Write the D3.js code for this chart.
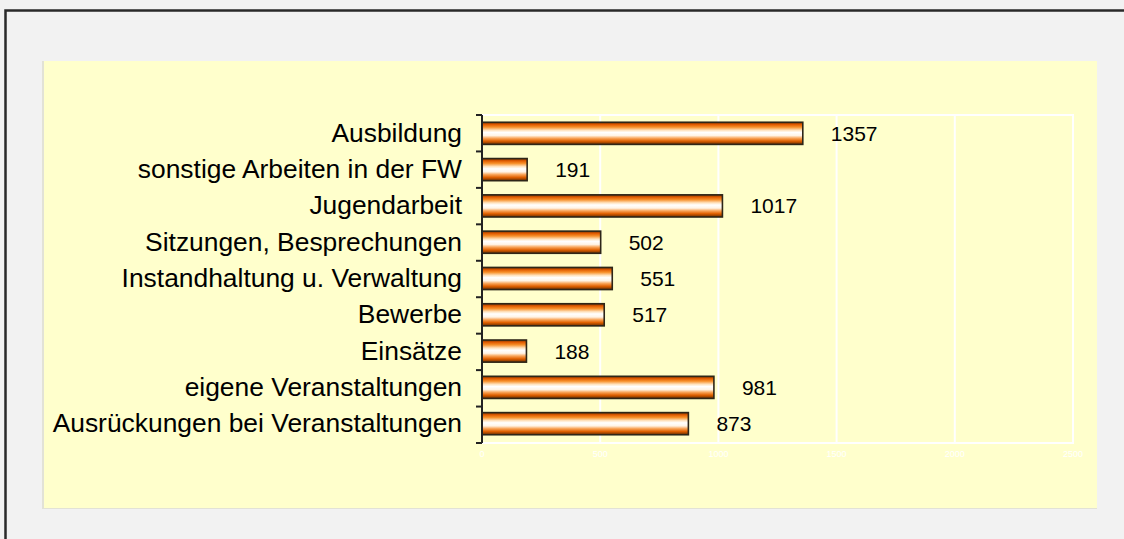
<!DOCTYPE html>
<html>
<head>
<meta charset="utf-8">
<script src="https://cdn.jsdelivr.net/npm/d3@7"></script>
<style>
  body { margin: 0; background: #f2f2f2; }
  svg { display: block; }
</style>
</head>
<body>
<script>
// Categories from top to bottom, with their values.
var categories = [
  "Ausbildung",
  "sonstige Arbeiten in der FW",
  "Jugendarbeit",
  "Sitzungen, Besprechungen",
  "Instandhaltung u. Verwaltung",
  "Bewerbe",
  "Einsätze",
  "eigene Veranstaltungen",
  "Ausrückungen bei Veranstaltungen"
];
var values = [1357, 191, 1017, 502, 551, 517, 188, 981, 873];
var xTicks = [0, 500, 1000, 1500, 2000, 2500];

var W = 1124, H = 539;
var plot = {left: 482, right: 1073, top: 115, bottom: 443};

var svg = d3.select("body").append("svg")
    .attr("width", W)
    .attr("height", H);

// Outer frame (only left and top edges visible)
svg.append("rect")
    .attr("width", W).attr("height", H)
    .attr("fill", "#f2f2f2");
svg.append("path")
    .attr("d", "M5.5," + H + "V10.5H" + W)
    .attr("fill", "none")
    .attr("stroke", "#2a2a2a")
    .attr("stroke-width", 2.5);

// Chart area with a light shadow
svg.append("rect")
    .attr("x", 42).attr("y", 61)
    .attr("width", 1055).attr("height", 448)
    .attr("fill", "#e2e2d6");
svg.append("rect")
    .attr("x", 44).attr("y", 61)
    .attr("width", 1053).attr("height", 447)
    .attr("fill", "#ffffcc");

// Gradient for the bars
var defs = svg.append("defs");
var grad = defs.append("linearGradient")
    .attr("id", "barGrad")
    .attr("x1", 0).attr("y1", 0).attr("x2", 0).attr("y2", 1);
[[0, "#7a3300"], [0.1, "#e05a00"], [0.22, "#f7902a"], [0.36, "#ffe2bd"],
 [0.46, "#ffffff"], [0.6, "#fff4e6"], [0.72, "#f9a55a"], [0.85, "#e06000"],
 [1, "#6b2e00"]].forEach(function(s) {
  grad.append("stop").attr("offset", s[0]).attr("stop-color", s[1]);
});

// Scales
var x = d3.scaleLinear()
    .domain([0, 2500])
    .range([plot.left, plot.right]);
var y = d3.scaleBand()
    .domain(categories)
    .range([plot.top, plot.bottom - 1])
    .paddingInner(0.39)
    .paddingOuter(0.2);

// Gridlines
svg.append("g")
    .selectAll("line")
    .data(xTicks.slice(1))
    .join("line")
    .attr("x1", function(d) { return x(d); })
    .attr("x2", function(d) { return x(d); })
    .attr("y1", plot.top)
    .attr("y2", plot.bottom)
    .attr("stroke", "#ffffff")
    .attr("stroke-width", 2);

// Plot border (top, right, bottom)
svg.append("path")
    .attr("d", "M" + plot.left + "," + plot.top + "H" + plot.right +
               "V" + plot.bottom + "H" + plot.left)
    .attr("fill", "none")
    .attr("stroke", "#ffffff")
    .attr("stroke-width", 2);

// X axis tick labels (white, barely visible)
svg.append("g")
    .selectAll("text")
    .data(xTicks)
    .join("text")
    .attr("x", function(d) { return x(d); })
    .attr("y", plot.bottom + 14)
    .attr("text-anchor", "middle")
    .attr("font-family", "Liberation Sans, Arial, sans-serif")
    .attr("font-size", "9px")
    .attr("fill", "#ffffff")
    .text(function(d) { return d; });

// Bars
svg.append("g")
    .selectAll("rect")
    .data(values)
    .join("rect")
    .attr("x", x(0))
    .attr("y", function(d, i) { return y(categories[i]); })
    .attr("width", function(d) { return x(d) - x(0); })
    .attr("height", y.bandwidth())
    .attr("fill", "url(#barGrad)")
    .attr("stroke", "#2e2618")
    .attr("stroke-width", 1.6);

// Value labels
svg.append("g")
    .selectAll("text")
    .data(values)
    .join("text")
    .attr("x", function(d) { return x(d) + 28; })
    .attr("y", function(d, i) { return y(categories[i]) + y.bandwidth() / 2 + 2; })
    .attr("dominant-baseline", "middle")
    .attr("font-family", "Liberation Sans, Arial, sans-serif")
    .attr("font-size", "21px")
    .attr("fill", "#000")
    .text(function(d) { return d; });

// Y axis
var yAxis = d3.axisLeft(y)
    .tickSize(0)
    .tickPadding(20);
var yg = svg.append("g")
    .attr("transform", "translate(" + plot.left + ",0)")
    .call(yAxis);
yg.select(".domain")
    .attr("d", "M0," + plot.top + "V" + plot.bottom)
    .attr("stroke", "#222")
    .attr("stroke-width", 2);
yg.selectAll(".tick text")
    .attr("font-family", "Liberation Sans, Arial, sans-serif")
    .attr("font-size", "26.4px")
    .attr("fill", "#000");

// Category separators on the axis
var edges = d3.range(categories.length + 1).map(function(i) {
  return plot.top + (plot.bottom - plot.top) * i / categories.length;
});
yg.selectAll(".sep")
    .data(edges)
    .join("line")
    .attr("class", "sep")
    .attr("x1", -6).attr("x2", 0)
    .attr("y1", function(d) { return d; })
    .attr("y2", function(d) { return d; })
    .attr("stroke", "#222")
    .attr("stroke-width", 2);
</script>
</body>
</html>
